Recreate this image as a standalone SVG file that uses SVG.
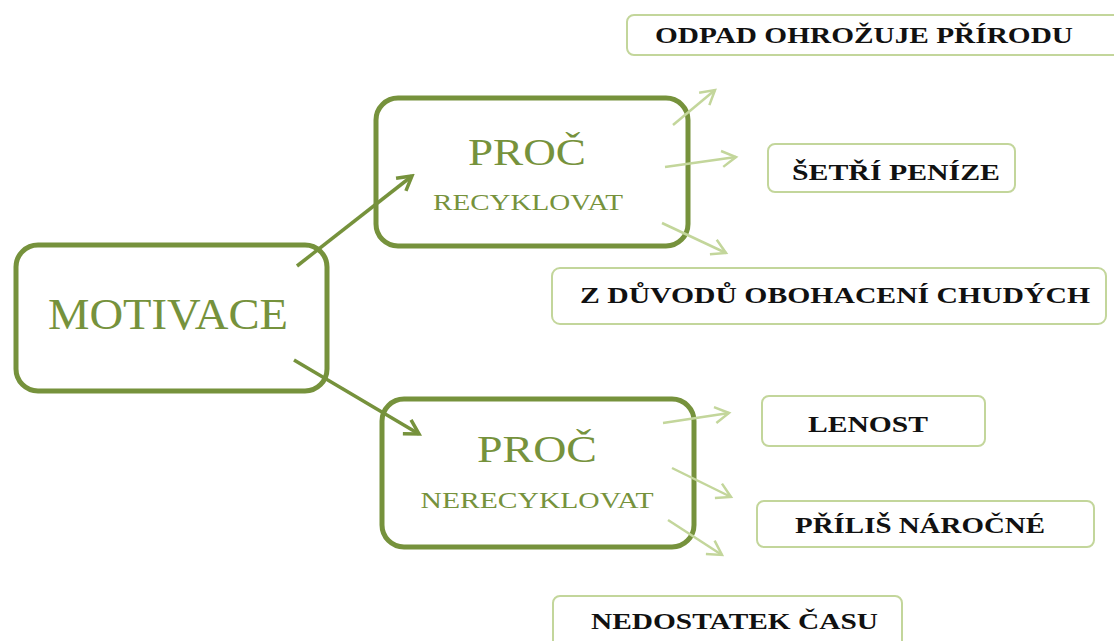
<svg xmlns="http://www.w3.org/2000/svg" width="1114" height="641" viewBox="0 0 1114 641">
<style>
.big{fill:none;stroke:#76923c;stroke-width:5}
.small{fill:#fff;stroke:#c3d69b;stroke-width:2}
.gt{font-family:"Liberation Serif",serif;fill:#76923c;text-anchor:middle}
.bt{font-family:"Liberation Serif",serif;font-weight:bold;fill:#111;font-size:23px}
.dk{stroke:#76923c;stroke-width:3.5;fill:none;marker-end:url(#ad)}
.lt{stroke:#c3d69b;stroke-width:2.5;fill:none;marker-end:url(#al)}
</style>
<defs>
<marker id="ad" viewBox="0 0 20 20" refX="17" refY="10" markerWidth="20" markerHeight="20" markerUnits="userSpaceOnUse" orient="auto">
<path d="M3,2 L17,10 L3,18" fill="none" stroke="#76923c" stroke-width="3.5"/>
</marker>
<marker id="al" viewBox="0 0 20 20" refX="17" refY="10" markerWidth="20" markerHeight="20" markerUnits="userSpaceOnUse" orient="auto">
<path d="M3,2 L17,10 L3,18" fill="none" stroke="#c3d69b" stroke-width="2.5"/>
</marker>
</defs>
<rect width="1114" height="641" fill="#fff"/>
<g id="n-odpad"><rect class="small" x="627" y="15" width="500" height="40" rx="7"/><text class="bt" x="655" y="43" textLength="418" lengthAdjust="spacingAndGlyphs">ODPAD OHROŽUJE PŘÍRODU</text></g>
<g id="n-setri"><rect class="small" x="768" y="144" width="247" height="48" rx="7"/><text class="bt" x="792" y="180" textLength="208" lengthAdjust="spacingAndGlyphs">ŠETŘÍ PENÍZE</text></g>
<g id="n-duvod"><rect class="small" x="552" y="268" width="554" height="56" rx="8"/><text class="bt" x="580" y="303" textLength="510" lengthAdjust="spacingAndGlyphs">Z DŮVODŮ OBOHACENÍ CHUDÝCH</text></g>
<g id="n-lenost"><rect class="small" x="762" y="396" width="223" height="50" rx="7"/><text class="bt" x="808" y="432" textLength="120" lengthAdjust="spacingAndGlyphs">LENOST</text></g>
<g id="n-prilis"><rect class="small" x="757" y="501" width="337" height="46" rx="7"/><text class="bt" x="795" y="533" textLength="250" lengthAdjust="spacingAndGlyphs">PŘÍLIŠ NÁROČNÉ</text></g>
<g id="n-nedostatek"><rect class="small" x="553" y="596" width="349" height="60" rx="7"/><text class="bt" x="591" y="629" textLength="287" lengthAdjust="spacingAndGlyphs">NEDOSTATEK ČASU</text></g>
<g id="n-motivace"><rect class="big" x="16" y="245" width="311" height="146" rx="22"/><text class="gt" x="168" y="329" font-size="44" textLength="240" lengthAdjust="spacingAndGlyphs">MOTIVACE</text></g>
<g id="n-recyklovat"><rect class="big" x="376" y="98" width="312" height="148" rx="22"/><text class="gt" x="527" y="165" font-size="38" textLength="118" lengthAdjust="spacingAndGlyphs">PROČ</text><text class="gt" x="528" y="210" font-size="24" textLength="190" lengthAdjust="spacingAndGlyphs">RECYKLOVAT</text></g>
<g id="n-nerecyklovat"><rect class="big" x="382" y="399" width="312" height="148" rx="22"/><text class="gt" x="537" y="462" font-size="38" textLength="120" lengthAdjust="spacingAndGlyphs">PROČ</text><text class="gt" x="537" y="508" font-size="24" textLength="233" lengthAdjust="spacingAndGlyphs">NERECYKLOVAT</text></g>
<g id="connectors">
<line class="dk" x1="297" y1="266" x2="412" y2="176"/>
<line class="dk" x1="294" y1="360" x2="419" y2="434"/>
<line class="lt" x1="673" y1="125" x2="715" y2="90"/>
<line class="lt" x1="665" y1="167" x2="736" y2="157"/>
<line class="lt" x1="662" y1="223" x2="726" y2="253"/>
<line class="lt" x1="663" y1="423" x2="729" y2="413"/>
<line class="lt" x1="672" y1="468" x2="731" y2="497"/>
<line class="lt" x1="668" y1="520" x2="722" y2="555"/>
</g>
</svg>
